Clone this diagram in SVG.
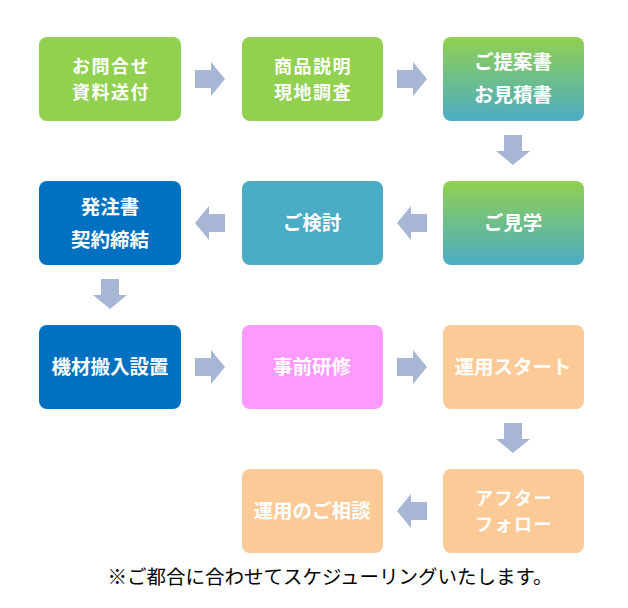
<svg xmlns="http://www.w3.org/2000/svg" width="628" height="608" viewBox="0 0 628 608">
<style>
.box{stroke:none}
.t{font-family:"Noto Sans CJK JP","Noto Sans CJK SC",sans-serif;font-weight:bold;font-size:19.5px;fill:#fff;text-anchor:middle}
.t2{font-size:18px;letter-spacing:1.5px}
.note{font-family:"Noto Sans CJK JP",sans-serif;font-size:19.5px;fill:#000;text-anchor:middle}
.arr{fill:#A7B6D4}
</style>
<defs>
<linearGradient id="g1" x1="0" y1="0" x2="0" y2="1">
<stop offset="0" stop-color="#92D050"/>
<stop offset="1" stop-color="#4BACC6"/>
</linearGradient>
<path id="ar" d="M-15,-9 H1 V-17 L15,0 L1,17 V9 H-15 Z"/>
</defs>
<rect width="628" height="608" fill="#fff"/>
<g id="n1"><rect class="box" x="39" y="37" width="142" height="84" rx="8" fill="#92D050"/><text class="t t2" x="111" y="72.5">お問合せ</text><text class="t t2" x="111" y="99">資料送付</text></g>
<g id="n2"><rect class="box" x="242" y="37" width="141" height="84" rx="8" fill="#92D050"/><text class="t t2" x="313" y="72.5">商品説明</text><text class="t t2" x="313" y="99">現地調査</text></g>
<g id="n3"><rect class="box" x="443" y="37" width="141" height="84" rx="8" fill="url(#g1)"/><text class="t" x="513" y="69">ご提案書</text><text class="t" x="513" y="102">お見積書</text></g>
<g id="n4"><rect class="box" x="443" y="181" width="141" height="84" rx="8" fill="url(#g1)"/><text class="t" x="513" y="230">ご見学</text></g>
<g id="n5"><rect class="box" x="242" y="181" width="141" height="84" rx="8" fill="#4BACC6"/><text class="t" x="312" y="230">ご検討</text></g>
<g id="n6"><rect class="box" x="39" y="181" width="142" height="84" rx="8" fill="#0070C0"/><text class="t" x="110" y="214">発注書</text><text class="t" x="110" y="247">契約締結</text></g>
<g id="n7"><rect class="box" x="39" y="325" width="142" height="84" rx="8" fill="#0070C0"/><text class="t" x="110" y="374">機材搬入設置</text></g>
<g id="n8"><rect class="box" x="242" y="325" width="141" height="84" rx="8" fill="#FF99FF"/><text class="t" x="312" y="374">事前研修</text></g>
<g id="n9"><rect class="box" x="443" y="325" width="141" height="84" rx="8" fill="#FCCA96"/><text class="t" x="513" y="374">運用スタート</text></g>
<g id="n10"><rect class="box" x="443" y="469" width="141" height="84" rx="8" fill="#FCCA96"/><text class="t t2" x="514" y="504.5">アフター</text><text class="t t2" x="514" y="531">フォロー</text></g>
<g id="n11"><rect class="box" x="242" y="469" width="141" height="84" rx="8" fill="#FCCA96"/><text class="t" x="312" y="518">運用のご相談</text></g>
<g id="connectors" class="arr">
<use href="#ar" transform="translate(210,79)"/>
<use href="#ar" transform="translate(412,79)"/>
<use href="#ar" transform="translate(513,150) rotate(90)"/>
<use href="#ar" transform="translate(412,223) rotate(180)"/>
<use href="#ar" transform="translate(210,223) rotate(180)"/>
<use href="#ar" transform="translate(110,294) rotate(90)"/>
<use href="#ar" transform="translate(210,367)"/>
<use href="#ar" transform="translate(412,367)"/>
<use href="#ar" transform="translate(513,438) rotate(90)"/>
<use href="#ar" transform="translate(412,511) rotate(180)"/>
</g>
<text class="note" x="330" y="584">※ご都合に合わせてスケジューリングいたします。</text>
</svg>
